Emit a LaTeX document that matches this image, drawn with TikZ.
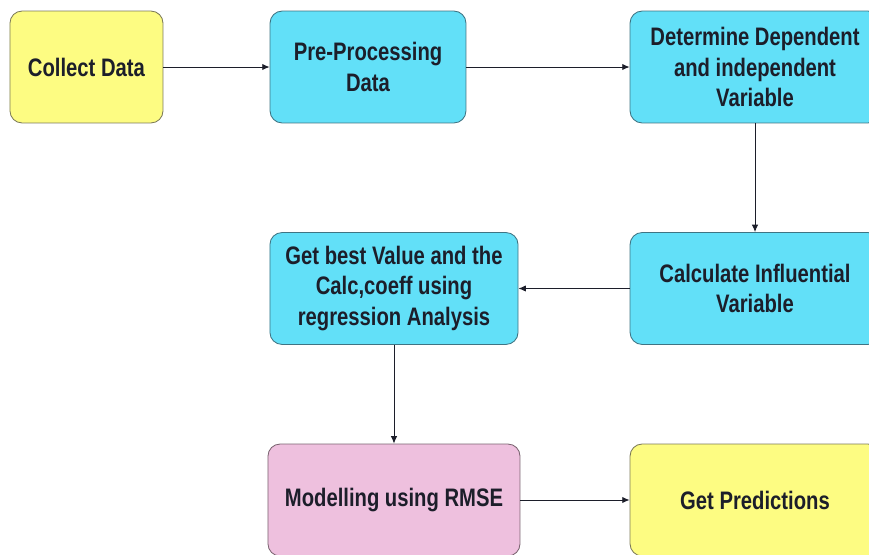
\documentclass[tikz,border=0pt]{standalone}
\usepackage{fontspec}
\setmainfont{Liberation Sans}[FakeStretch=0.8]
\usepackage{xcolor}
\usepackage{tikz}
\usetikzlibrary{positioning}
\usetikzlibrary{arrows.meta}
\definecolor{boxyellow}{HTML}{FDFC82}
\definecolor{boxcyan}{HTML}{62E0F8}
\definecolor{boxpink}{HTML}{EEC0DE}
\definecolor{edgeyellow}{HTML}{7C7A58}
\definecolor{edgecyan}{HTML}{3F7483}
\definecolor{edgepink}{HTML}{7A6470}
\definecolor{inkdark}{HTML}{1C1E2A}

\begin{document}
\begin{tikzpicture}
% Define styles
\tikzstyle{stage} = [draw, rounded corners=0.4cm, line width=0.8pt, text=inkdark, align=center, font=\fontsize{24}{29}\selectfont\bfseries, minimum height=3.73cm, inner sep=0pt]
\tikzstyle{yellowstage} = [stage, fill=boxyellow, draw=edgeyellow]
\tikzstyle{cyanstage} = [stage, fill=boxcyan, draw=edgecyan]
\tikzstyle{pinkstage} = [stage, fill=boxpink, draw=edgepink]
\tikzstyle{flow} = [-{Latex[length=7pt,width=6pt]}, line width=0.9pt, draw=inkdark]
\clip (0,0) rectangle (28.967,18.467);
% Define nodes
\node[yellowstage, minimum width=5.1cm] (collect) at (2.883,16.233) {Collect Data};
\node[cyanstage, minimum width=6.53cm] (preproc) at (12.267,16.233) {Pre-Processing\\Data};
\node[cyanstage, minimum width=8.33cm] (determine) at (25.167,16.233) {Determine Dependent\\and independent\\Variable};
\node[cyanstage, minimum width=8.33cm] (calculate) at (25.167,8.85) {Calculate Influential\\Variable};
\node[cyanstage, minimum width=8.27cm] (getbest) at (13.133,8.85) {Get best Value and the\\Calc,coeff using\\regression Analysis};
\node[pinkstage, minimum width=8.4cm] (modelling) at (13.133,1.8) {Modelling using RMSE};
\node[yellowstage, minimum width=8.33cm] (predict) at (25.167,1.8) {Get Predictions};
% Connect the nodes
\draw[flow] (collect) -- (preproc);
\draw[flow] (preproc) -- (determine);
\draw[flow] (determine) -- (calculate);
\draw[flow] (calculate) -- (getbest);
\draw[flow] (getbest) -- (modelling);
\draw[flow] (modelling) -- (predict);
\end{tikzpicture}
\end{document}
